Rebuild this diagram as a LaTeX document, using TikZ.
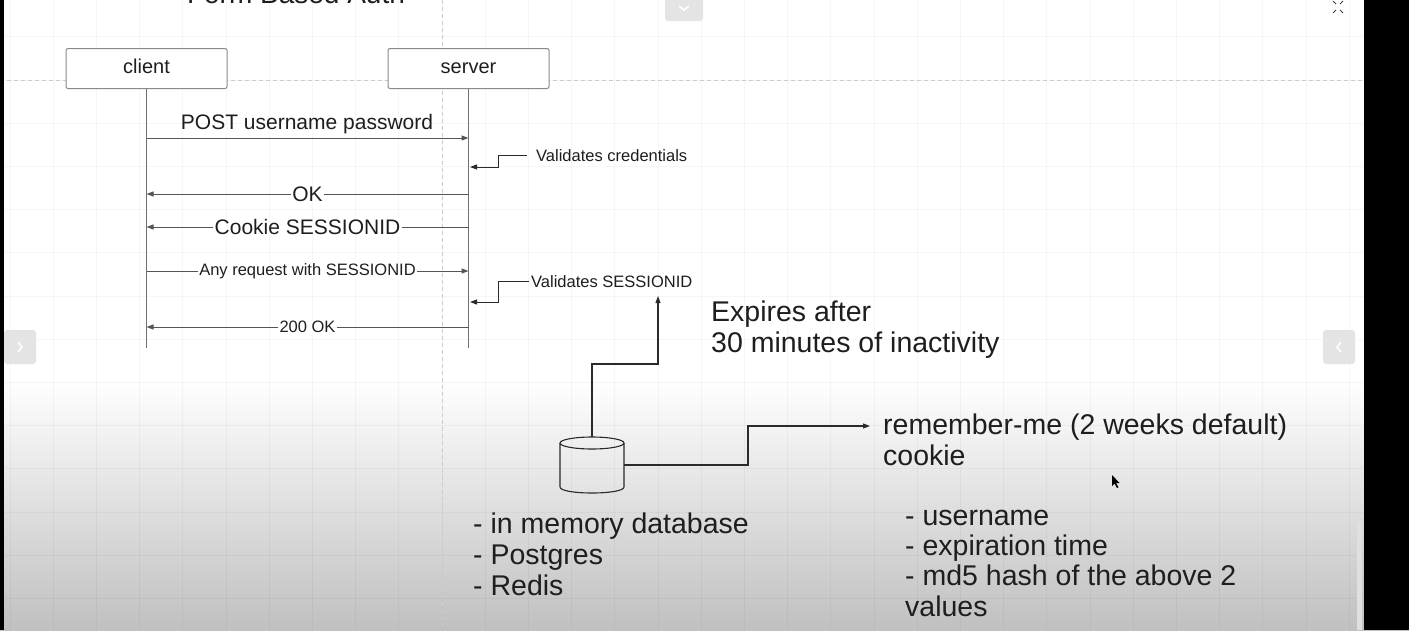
\documentclass[tikz,border=0pt]{standalone}
\usepackage{fontspec}
\setmainfont{Liberation Sans}
\usetikzlibrary{arrows.meta,calc}
\definecolor{ink}{HTML}{1E1E1E}
\definecolor{wire}{HTML}{555555}
\definecolor{darkwire}{HTML}{2A2A2A}
\definecolor{life}{HTML}{707070}
\definecolor{boxline}{HTML}{8A8A8A}
\definecolor{bggray}{HTML}{C0C0C0}
\definecolor{uibtn}{HTML}{E4E4E4}
\newcommand\pxfont[1]{\fontsize{#1}{#1}\selectfont}
\tikzset{
 actor/.style={draw=boxline, line width=1pt, rounded corners=2pt, fill=white, minimum width=161pt, minimum height=40pt, inner sep=0pt, text height=15pt, text depth=5pt, font=\pxfont{20}, text=ink},
 lifeline/.style={draw=life, line width=1pt},
 msg/.style={draw=wire, line width=1pt, -{Triangle[length=7pt,width=5pt]}},
 dbwire/.style={draw=darkwire, line width=1.1pt, -{Triangle[length=7pt,width=5pt]}},
 msglabel/.style={fill=white, inner xsep=1.5pt, inner ysep=0pt, text=ink},
 big/.style={font=\pxfont{28.5}, text=ink, inner sep=0pt, anchor=base west},
 note/.style={font=\pxfont{16.5}, text=ink, inner sep=0pt, anchor=base west},
 gridln/.style={draw=black, draw opacity=0.035, line width=0.8pt},
 pagebreak/.style={draw=black!20, line width=0.8pt, dash pattern=on 4pt off 3pt},
}
\begin{document}
\begin{tikzpicture}[x=1pt,y=-1pt]
\useasboundingbox (0,0) rectangle (1409,630);
\clip (0,0) rectangle (1409,630);
% background
\fill[white] (0,0) rectangle (1409,381);
\shade[top color=white, bottom color=bggray] (0,380) rectangle (1409,630);
\foreach \i in {-10,...,21} \draw[gridln] ({442+43.2*\i},0) -- ({442+43.2*\i},630);
\foreach \j in {-1,...,13} \draw[gridln] (0,{80+43.2*\j}) -- (1409,{80+43.2*\j});
\draw[pagebreak] (442,0) -- (442,630);
\draw[pagebreak] (0,80) -- (1409,80);

% title (cut off at the top, as in the screenshot)
\node[font=\pxfont{28}, text=ink, anchor=base, inner sep=0pt] (title) at (296,3) {Form Based Auth};

% actors and lifelines
\node[actor] (client) at (146.5,68.5) {client};
\node[actor] (server) at (468.5,68.5) {server};
\coordinate (clientEnd) at (146.5,348);
\coordinate (serverEnd) at (468.5,348);
\draw[lifeline] (client.south) -- (clientEnd);
\draw[lifeline] (server.south) -- (serverEnd);

% messages
\coordinate (c1) at (146.5,138); \coordinate (s1) at (468.5,138);
\draw[msg] (c1) -- (s1);
\node[font=\pxfont{21}, text=ink, anchor=base, inner sep=0pt] (postlbl) at (307,129) {POST username password};

\node[note] (vc) at (536,161) {Validates credentials};
\coordinate (vcStart) at ([xshift=-9pt]vc.west);
\coordinate (vcTip) at (470,167);
\draw[msg, draw=darkwire] (vcStart) -- ($(vcStart)+(-28.5,0)$) |- (vcTip);

\coordinate (c2) at (146.5,194); \coordinate (s2) at (468.5,194);
\draw[msg] (s2) -- (c2) node[midway, msglabel, font=\pxfont{21}] (oklbl) {OK};

\coordinate (c3) at (146.5,227); \coordinate (s3) at (468.5,227);
\draw[msg] (s3) -- (c3) node[midway, msglabel, font=\pxfont{21}] (cookielbl) {Cookie SESSIONID};

\coordinate (c4) at (146.5,271); \coordinate (s4) at (468.5,271);
\draw[msg] (c4) -- (s4) node[midway, msglabel, font=\pxfont{16.5}] (anylbl) {Any request with SESSIONID};

\node[note] (vs) at (531,287.5) {Validates SESSIONID};
\coordinate (vsStart) at ([xshift=-2pt]vs.west);
\coordinate (vsTip) at (470,302);
\draw[msg, draw=darkwire] (vsStart) -- ($(vsStart)+(-30.5,0)$) |- (vsTip);

\coordinate (c5) at (146.5,327); \coordinate (s5) at (468.5,327);
\draw[msg] (s5) -- (c5) node[midway, msglabel, font=\pxfont{16.5}] (okkk) {200 OK};

% expiry note
\node[big] (exp1) at (711,321) {Expires after};
\node[big] (exp2) at (711,352) {30 minutes of inactivity};

% database cylinder
\node[minimum width=64pt, minimum height=56pt, inner sep=0pt] (db) at (592,465) {};
\draw[darkwire, line width=1.1pt] (592,443) ellipse [x radius=32, y radius=6];
\draw[darkwire, line width=1.1pt] (560,443) -- (560,487) .. controls (560,495) and (624,495) .. (624,487) -- (624,443);

\coordinate (vsBend) at (658,364);
\coordinate (vsIn) at (658,296);
\draw[dbwire] (db.north) |- (vsBend) -- (vsIn);

\coordinate (rmStep) at (748,465);
\coordinate (rmIn) at (870,426);
\draw[dbwire] (db.east) -- (rmStep) |- (rmIn);

\node[big] (db1) at (473,533) {- in memory database};
\node[big] (db2) at (473,564) {- Postgres};
\node[big] (db3) at (473,595) {- Redis};

\node[big] (rm1) at (883,434) {remember-me (2 weeks default)};
\node[big] (rm2) at (883,465) {cookie};
\node[big] (li1) at (905,525) {- username};
\node[big] (li2) at (905,555) {- expiration time};
\node[big] (li3) at (905,585.5) {- md5 hash of the above 2};
\node[big] (li4) at (905,616) {values};

% screen furniture
\fill[black] (0,0) rectangle (4,630);
\fill[black] (1364,0) rectangle (1409,630);
\fill[uibtn, rounded corners=3pt] (665,-6) rectangle (703,21);
\draw[white, line width=1.5pt] (679,6) -- (684,10) -- (689,6);
\fill[uibtn, rounded corners=3pt] (4,330) rectangle (36,364);
\draw[white, line width=1.5pt] (18,342) -- (22,347) -- (18,352);
\fill[uibtn, rounded corners=3pt] (1323,330) rectangle (1355,364);
\draw[white, line width=1.5pt] (1341,342) -- (1337,347) -- (1341,352);
\fill[black!12] (1357,522) rectangle (1362,630);
\draw[black!75, line width=0.8pt] (1333,1)--(1336,4) (1343,1)--(1340,4) (1333,13)--(1336,10) (1343,13)--(1340,10);
\fill[black] (1112,475) -- (1112,486) -- (1114.5,483.5) -- (1117,488) -- (1118.5,487.3) -- (1116,483) -- (1119.5,483) -- cycle;
\end{tikzpicture}
\end{document}
